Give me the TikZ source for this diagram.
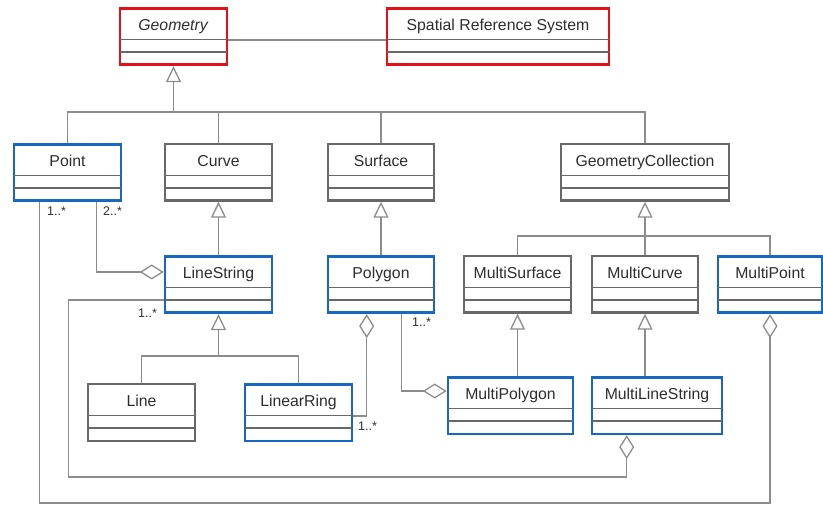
\documentclass[tikz,border=0pt]{standalone}
\usepackage{fontspec}
\setmainfont{Liberation Sans}
\usepackage{xcolor}
\usetikzlibrary{arrows.meta}
\definecolor{umlred}{RGB}{228,18,24}
\definecolor{umlblue}{RGB}{24,104,194}
\definecolor{umlgray}{RGB}{104,104,104}
\definecolor{lineg}{RGB}{140,140,140}
\definecolor{txtg}{RGB}{45,45,45}

\tikzset{
classbox/.style={draw, anchor=north, inner xsep=0pt, inner ysep=0pt, text height=22pt, text depth=34.5pt, text=txtg, font=\fontsize{15.8}{18}\selectfont},
sepline/.style={draw=umlgray, line width=1.8pt},
conn/.style={draw=lineg, line width=1.3pt},
gen/.style={conn, -{Triangle[open, width=15pt, length=16pt]}},
agg/.style={conn, -{Diamond[open, length=24pt, width=15pt]}},
mult/.style={font=\fontsize{12.5}{14}\selectfont, text=txtg, inner sep=0pt, anchor=north west},
}

\begin{document}
\begin{tikzpicture}[x=1pt, y=-1pt]
\useasboundingbox (0,0) rectangle (823,505);

%The classes: name/x/top/width/colour/line width/text
\foreach \n/\x/\y/\w/\c/\lw/\t in {
geometry/173.5/7/107/umlred/2.6/\textit{Geometry},
srs/498/7/222/umlred/2.6/Spatial Reference System,
point/67.5/143/107/umlblue/2.6/Point,
curve/218.5/143/107/umlgray/2.2/Curve,
surface/381/143/106/umlgray/2.2/Surface,
geomcoll/645/143/168/umlgray/2.2/GeometryCollection,
linestring/218.5/255/107/umlblue/2.6/LineString,
polygon/381/255/106/umlblue/2.6/Polygon,
multisurface/517.5/255/107/umlgray/2.2/MultiSurface,
multicurve/645/255/106/umlgray/2.2/MultiCurve,
multipoint/770/255/104/umlblue/2.6/MultiPoint,
line/141.5/383/107/umlgray/2.2/Line,
linearring/298.5/383/107/umlblue/2.6/LinearRing,
multipolygon/510.5/376/125/umlblue/2.6/MultiPolygon,
multilinestring/657/376/130/umlblue/2.6/MultiLineString}
{
\node[classbox, draw=\c, line width=\lw pt, minimum width=\w pt] (\n) at (\x,\y) {\t};
\draw[sepline] ([xshift=1pt,yshift=-32.5pt]\n.north west) -- ([xshift=-1pt,yshift=-32.5pt]\n.north east);
\draw[sepline] ([xshift=1pt,yshift=-45pt]\n.north west) -- ([xshift=-1pt,yshift=-45pt]\n.north east);
}

%Association
\draw[conn] ([yshift=-33pt]geometry.north east) -- ([yshift=-33pt]srs.north west);

%Generalizations:
\coordinate (gbus) at (173.5,112);
\draw[gen] (gbus) -- (geometry.south);
\draw[conn] (point.north) |- (gbus) -| (geomcoll.north);
\draw[conn] (curve.north) -- (curve.north |- gbus);
\draw[conn] (surface.north) -- (surface.north |- gbus);
\draw[gen] (linestring.north) -- (curve.south);
\draw[gen] (polygon.north) -- (surface.south);
\coordinate (cbus) at (645,236);
\draw[gen] (cbus) -- (geomcoll.south);
\draw[conn] (multisurface.north) |- (cbus) -| (multipoint.north);
\draw[conn] (multicurve.north) -- (cbus);
\coordinate (lbus) at (218.5,356);
\draw[gen] (lbus) -- (linestring.south);
\draw[conn] (line.north) |- (lbus) -| (linearring.north);
\draw[gen] (multisurface.south |- multipolygon.north) -- (multisurface.south);
\draw[gen] (multicurve.south |- multilinestring.north) -- (multicurve.south);

%Aggregations:
\coordinate (bot1) at (0,503);
\draw[agg] ([xshift=-26pt]point.south east) |- ([yshift=-17pt]linestring.north west);
\draw[agg] ([xshift=27pt]point.south west) |- (multipoint.south |- bot1) -- (multipoint.south);
\draw[agg] ([yshift=-45pt]linestring.north west) -- ++(-95,0) -- ++(0,177) -| ([xshift=36pt]multilinestring.south west);
\draw[agg] ([yshift=-33pt]linearring.north east) -| ([xshift=40pt]polygon.south west);
\draw[agg] ([xshift=-34pt]polygon.south east) |- ([yshift=-15pt]multipolygon.north west);

%Multiplicities
\node[mult] (m1) at (47,207) {1..*};
\node[mult] (m2) at (103,207) {2..*};
\node[mult] (m3) at (138,309) {1..*};
\node[mult] (m4) at (412,318) {1..*};
\node[mult] (m5) at (358,422) {1..*};

\end{tikzpicture}
\end{document}
